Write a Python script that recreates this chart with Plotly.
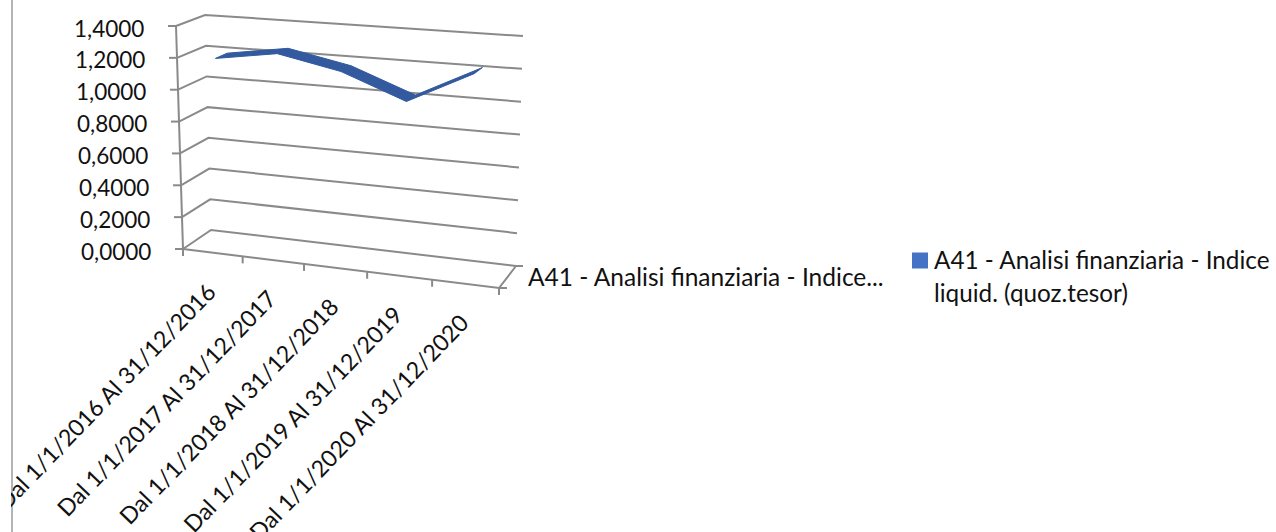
import plotly.graph_objects as go

categories = ["Dal 1/1/2016 Al 31/12/2016", "Dal 1/1/2017 Al 31/12/2017", "Dal 1/1/2018 Al 31/12/2018",
              "Dal 1/1/2019 Al 31/12/2019", "Dal 1/1/2020 Al 31/12/2020"]
values = [1.19, 1.25, 1.17, 1.02, 1.22]
tick_values = [0.0, 0.2, 0.4, 0.6, 0.8, 1.0, 1.2, 1.4]
tick_labels = ["0,0000", "0,2000", "0,4000", "0,6000", "0,8000", "1,0000", "1,2000", "1,4000"]
series_lines = ["A41 - Analisi finanziaria - Indice", "liquid. (quoz.tesor)"]
depth_label = "A41 - Analisi finanziaria - Indice..."

FONT = "Lato"
TEXT = "#111111"
GRID = "#8a8a8a"
RIBBON = "#335a9e"
VMAX = 1.4
K = 0.074  # perspective foreshortening along the category axis
# projected corners of the chart box: (u, depth, top)
CORNERS = {
    (0, 0, 1): (176, 26), (1, 0, 1): (504, 50), (0, 1, 1): (205, 15), (1, 1, 1): (523, 36),
    (0, 0, 0): (183, 249), (1, 0, 0): (499, 288), (0, 1, 0): (211, 230), (1, 1, 0): (516, 266),
}


def proj(u, d, v):
    """Project category position u, depth d and value v into page space."""
    u = u / (1 + K * (1 - u))
    t = v / VMAX
    x = y = 0.0
    for (a, b, c), (px, py) in CORNERS.items():
        w = (u if a else 1 - u) * (d if b else 1 - d) * (t if c else 1 - t)
        x += w * px
        y += w * py
    return x, y


fig = go.Figure()


def seg(points, color=GRID, width=2):
    fig.add_trace(go.Scatter(x=[p[0] for p in points], y=[p[1] for p in points], mode="lines",
                             line=dict(color=color, width=width), showlegend=False, hoverinfo="skip"))


# page border line at the left
seg([(12, 0), (12, 532)], color="#b4b4b4", width=2)

# walls
for v in tick_values:
    seg([proj(0, 0, v), proj(0, 1, v), proj(1, 1, v)])
    fx, fy = proj(0, 0, v)
    seg([(fx - 8, fy), (fx, fy)])
seg([proj(0, 0, 0), proj(0, 0, VMAX)])
seg([proj(0, 0, 0), proj(1, 0, 0), proj(1, 1, 0)])
rx, ry = proj(1, 1, 0)
seg([(rx, ry), (rx + 7, ry)])
rx, ry = proj(1, 0, 0)
seg([(rx, ry), (rx + 8, ry)])
n = len(categories)
for i in range(n + 1):
    x, y = proj(i / n, 0, 0)
    seg([(x, y), (x, y + 7)])

# ribbon
D_FRONT, D_BACK = 0.28, 0.70
front = [proj((i + 0.5) / n, D_FRONT, v) for i, v in enumerate(values)]
back = [proj((i + 0.5) / n, D_BACK, v) for i, v in enumerate(values)]
poly = front + back[::-1] + front[:1]
fig.add_trace(go.Scatter(x=[p[0] for p in poly], y=[p[1] for p in poly], mode="lines", fill="toself",
                         fillcolor=RIBBON, line=dict(color=RIBBON, width=1), showlegend=False, hoverinfo="skip"))

# legend swatch
fig.add_trace(go.Scatter(x=[920], y=[260.5], mode="markers", showlegend=False, hoverinfo="skip",
                         marker=dict(symbol="square", size=16, color="#4472c4")))

ann = []
for v, label in zip(tick_values, tick_labels):
    x, y = proj(0, 0, v)
    ann.append(dict(x=x - 30, y=y + 2, text=label, xanchor="right", yanchor="middle", showarrow=False,
                    font=dict(family=FONT, size=22.5, color=TEXT)))
for i, label in enumerate(categories):
    x, y = proj((i + 0.5) / n, 0, 0)
    ann.append(dict(x=x - 107, y=y + 143, text=label, textangle=-46, xanchor="center", yanchor="middle",
                    showarrow=False, font=dict(family=FONT, size=23.2, color=TEXT)))
ann.append(dict(x=526, y=276.5, text=depth_label, xanchor="left", yanchor="middle", showarrow=False,
                font=dict(family=FONT, size=24.5, color=TEXT)))
for y, line in zip([259, 292], series_lines):
    ann.append(dict(x=932, y=y, text=line, xanchor="left", yanchor="middle", showarrow=False,
                    font=dict(family=FONT, size=24.3, color=TEXT)))
# the chart is cropped at the border on the left
ann.append(dict(x=0, y=266, text=" ", xanchor="left", yanchor="middle", showarrow=False, width=11, height=532,
                bgcolor="#ffffff", borderpad=0, borderwidth=0))

fig.update_layout(
    width=1276, height=532, margin=dict(l=0, r=0, t=0, b=0),
    paper_bgcolor="#ffffff", plot_bgcolor="#ffffff",
    xaxis=dict(range=[0, 1276], visible=False, fixedrange=True),
    yaxis=dict(range=[532, 0], visible=False, fixedrange=True),
    annotations=ann,
    showlegend=False,
)
fig.write_html("out.html", post_script="document.body.style.margin='0';document.body.style.overflow='hidden';",
               config={"displayModeBar": False})
